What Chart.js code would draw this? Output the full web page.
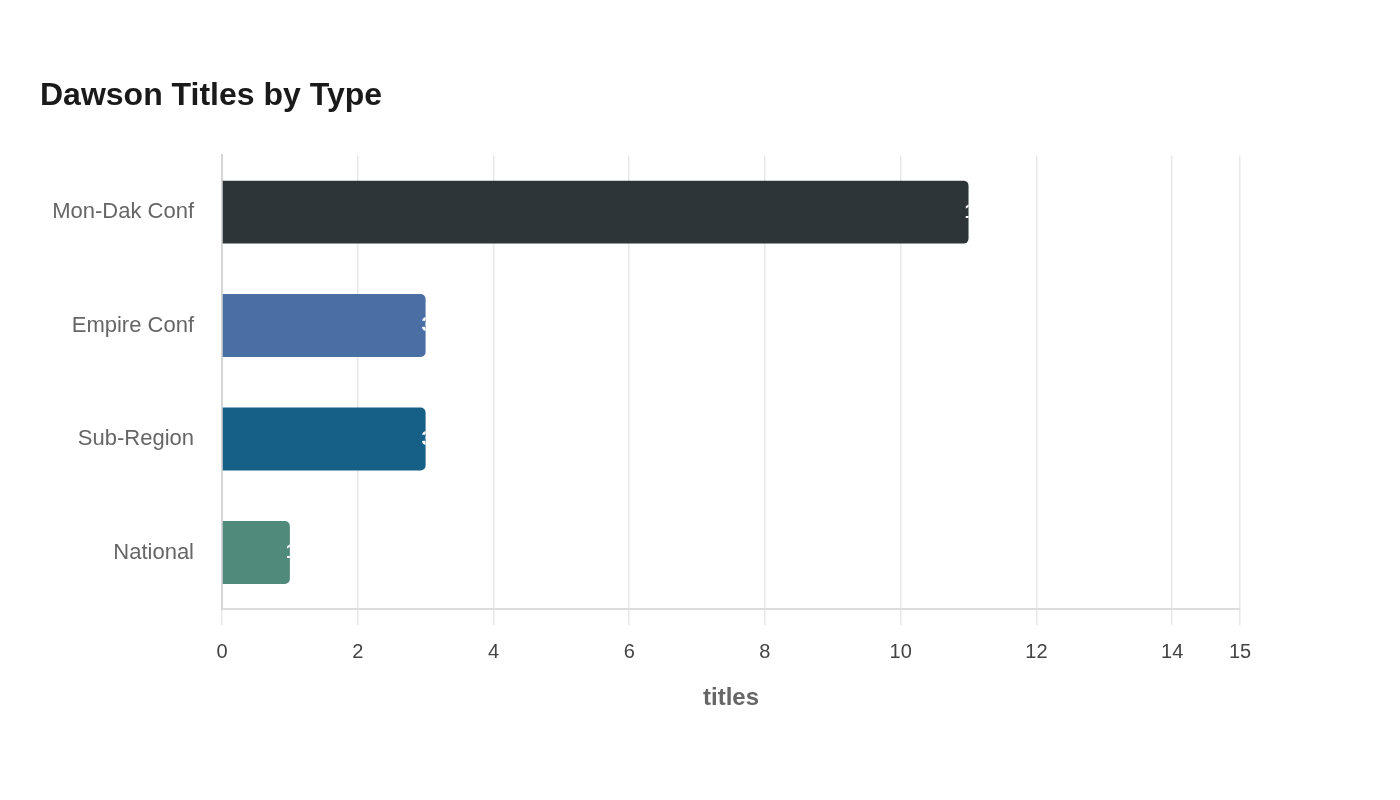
<!DOCTYPE html>
<html><head><meta charset="utf-8">
<script src="https://cdn.jsdelivr.net/npm/chart.js@4"></script>
<style>html,body{margin:0;padding:0;background:#fff}#wrap{width:1400px;height:800px}</style>
</head><body><div id="wrap"><canvas id="c"></canvas></div>
<script>
const categories = ["Mon-Dak Conf", "Empire Conf", "Sub-Region", "National"];
const titles = [11, 3, 3, 1];
const barColors = ["#2d3538", "#4a6fa5", "#166088", "#4f8a7b"];
const chartTitle = "Dawson Titles by Type";
const axisTitle = "titles";

const valueLabels = {
  id: 'valueLabels',
  afterDatasetsDraw(chart) {
    const ctx = chart.ctx;
    const meta = chart.getDatasetMeta(0);
    ctx.save();
    meta.data.forEach((bar, i) => {
      ctx.save();
      ctx.beginPath();
      ctx.rect(bar.base, bar.y - bar.height / 2, bar.x - bar.base, bar.height);
      ctx.clip();
      ctx.fillStyle = '#ffffff';
      ctx.font = 'bold 20px "Liberation Sans", Arial, sans-serif';
      ctx.textAlign = 'left';
      ctx.textBaseline = 'middle';
      ctx.fillText(String(titles[i]), bar.x - 4, bar.y);
      ctx.restore();
    });
    ctx.restore();
  }
};

new Chart(document.getElementById('c'), {
  type: 'bar',
  data: {
    labels: categories,
    datasets: [{
      data: titles,
      backgroundColor: barColors,
      borderRadius: 5,
      borderSkipped: 'start',
      barPercentage: 0.555,
      categoryPercentage: 1
    }]
  },
  options: {
    indexAxis: 'y',
    responsive: true,
    maintainAspectRatio: false,
    animation: false,
    layout: { padding: { left: 40, right: 160, top: 77, bottom: 83 } },
    plugins: {
      legend: { display: false },
      tooltip: { enabled: false },
      title: {
        display: true,
        text: chartTitle,
        align: 'start',
        color: '#1a1a1a',
        font: { family: '"Liberation Sans", Arial, sans-serif', size: 32, weight: 'bold' },
        padding: { top: 0, bottom: 40 }
      }
    },
    scales: {
      x: {
        min: 0, max: 15,
        ticks: { stepSize: 2, color: '#444', padding: 15, font: { family: '"Liberation Sans", Arial, sans-serif', size: 20 } },
        grid: { color: '#e8e8e8', lineWidth: 1.5, tickLength: 16 },
        border: { color: '#dddddd', width: 2 },
        title: { display: true, text: axisTitle, color: '#666', padding: { top: 5 }, font: { family: '"Liberation Sans", Arial, sans-serif', size: 24, weight: 'bold' } }
      },
      y: {
        afterFit(scale) { scale.width = 182; },
        ticks: { color: '#666', padding: 20, font: { family: '"Liberation Sans", Arial, sans-serif', size: 22 } },
        grid: { display: false },
        border: { color: '#d6d6d6', width: 2 }
      }
    }
  },
  plugins: [valueLabels]
});
</script></body></html>
